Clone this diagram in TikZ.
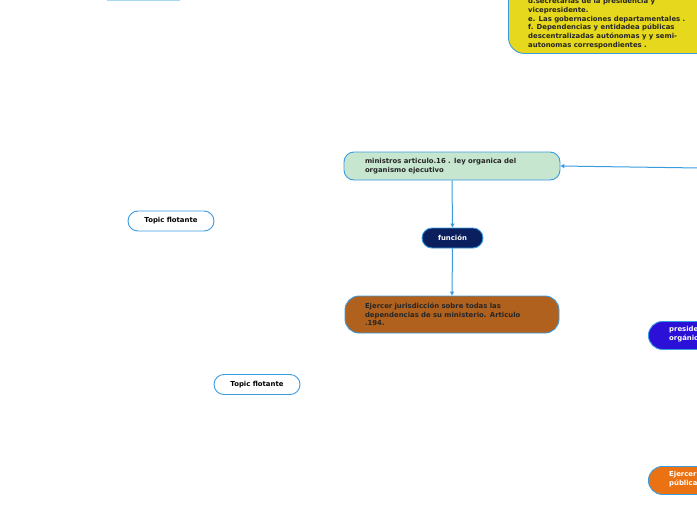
\documentclass[tikz,border=0pt]{standalone}
\usepackage{fontspec}
\setmainfont{DejaVu Sans}
\usetikzlibrary{arrows.meta}
\definecolor{bline}{HTML}{3A9CE0}
\definecolor{cyel}{HTML}{E6D81C}
\definecolor{cgreen}{HTML}{C6E6D0}
\definecolor{cnavy}{HTML}{0B1E5E}
\definecolor{cbrown}{HTML}{B0611E}
\definecolor{cviolet}{HTML}{2B10D8}
\definecolor{corange}{HTML}{EA7213}
\definecolor{clight}{HTML}{A8D8F0}
\tikzset{
  topic/.style={draw=bline, line width=0.9pt, rounded corners=10pt, inner sep=0pt,
    font=\fontsize{6.9}{8.7}\selectfont\bfseries, align=left},
  ftext/.style={font=\fontsize{6.9}{8.7}\selectfont\bfseries, align=left, anchor=north west, inner sep=0pt},
  conn/.style={draw=bline, line width=1pt, -{Triangle[length=4pt,width=4pt]}},
}
\begin{document}
\begin{tikzpicture}[x=1pt,y=-1pt]
\useasboundingbox (0,0) rectangle (697,520);
\fill[white] (0,0) rectangle (697,520);
\clip (0,0) rectangle (697,520);
% sliver top left
\draw[clight, line width=1pt] (107,0.3) -- (180,0.3);
% yellow node (cut)
\node[topic, fill=cyel, rounded corners=16pt, anchor=north west, minimum width=260pt,
  minimum height=83pt] (yel) at (508,-30) {};
\node[ftext, text=black!85] (yeltext) at (528,-2) {d.secretarías de la presidencia y\\vicepresidente.\\e. Las gobernaciones departamentales .\\f. Dependencias y entidadea públicas\\descentralizadas autónomas y y semi-\\autonomas correspondientes .};
% ministros
\node[topic, fill=cgreen, minimum width=216pt, minimum height=28pt, text width=174pt,
  text=black!85] (min) at (452,166) {ministros articulo.16 . ley organica del\\organismo ejecutivo};
% funcion
\node[topic, fill=cnavy, minimum width=61pt, minimum height=20pt, text=white, align=center] (fun) at (452.5,238) {función};
% ejercer
\node[topic, fill=cbrown, rounded corners=14pt, minimum width=214pt, minimum height=37pt, text width=174pt,
  text=black!85] (ej) at (452,314.5) {Ejercer jurisdicción sobre todas las\\dependencias de su ministerio. Articulo\\.194.};
% topic flotante
\node[topic, fill=white, minimum width=86pt, minimum height=20pt, align=center] (tf1) at (171,221) {Topic flotante};
\node[topic, fill=white, minimum width=86pt, minimum height=20pt, align=center] (tf2) at (257,384.5) {Topic flotante};
% right nodes (cut)
\node[topic, fill=cviolet, rounded corners=14pt, anchor=north west, minimum width=200pt, minimum height=28pt] (pres) at (648,321) {};
\node[ftext, text=white] (prestext) at (669,326.5) {presidente\\orgánica};
\node[topic, fill=corange, rounded corners=14pt, anchor=north west, minimum width=200pt, minimum height=28pt] (ejp) at (648,466) {};
\node[ftext, text=white] (ejptext) at (669,471.5) {Ejercer\\pública};
% connectors
\coordinate (rin) at (700,168);
\draw[conn] (rin) -- (min.east);
\draw[conn] (min.south) -- (fun.north);
\draw[conn] (fun.south) -- (ej.north);
\end{tikzpicture}
\end{document}
